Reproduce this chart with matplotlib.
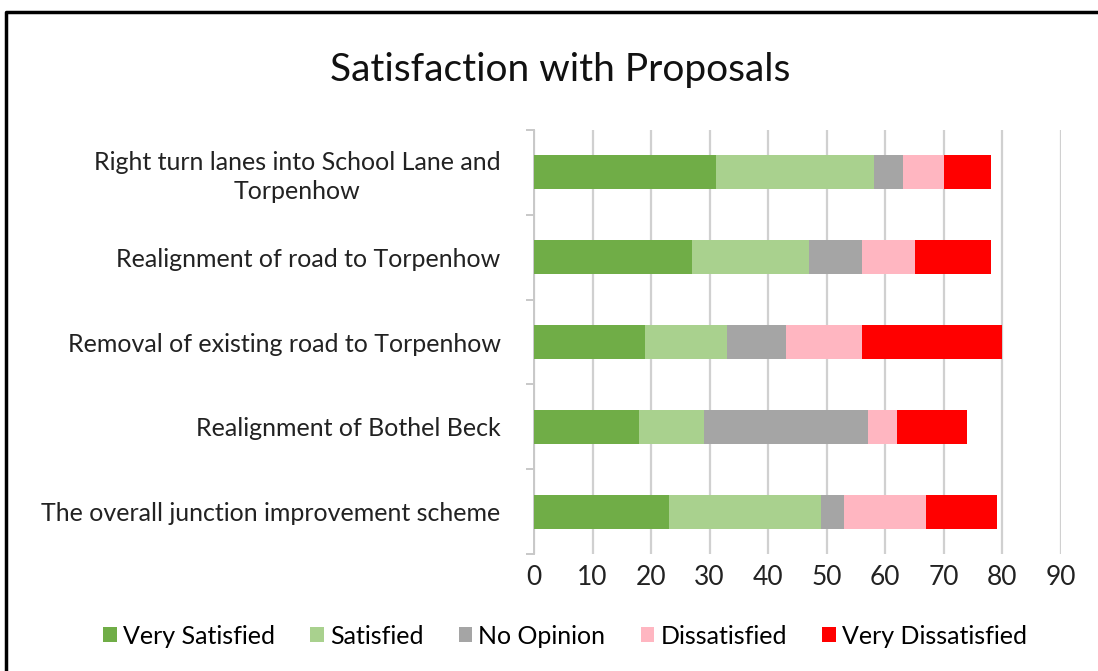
import matplotlib.pyplot as plt
from matplotlib.lines import Line2D
from matplotlib.patches import Patch
import numpy as np

plt.rcParams["font.family"] = ["Lato", "DejaVu Sans"]

proposals = [
    "Right turn lanes into School Lane and\nTorpenhow",
    "Realignment of road to Torpenhow",
    "Removal of existing road to Torpenhow",
    "Realignment of Bothel Beck",
    "The overall junction improvement scheme",
]
series_names = ["Very Satisfied", "Satisfied", "No Opinion", "Dissatisfied", "Very Dissatisfied"]
very_satisfied = [31, 27, 19, 18, 23]
satisfied = [27, 20, 14, 11, 26]
no_opinion = [5, 9, 10, 28, 4]
dissatisfied = [7, 9, 13, 5, 14]
very_dissatisfied = [8, 13, 24, 12, 12]
x_ticks = [0, 10, 20, 30, 40, 50, 60, 70, 80, 90]

colors = ["#70AD47", "#A9D18E", "#A5A5A5", "#FFB6C1", "#FF0000"]

fig = plt.figure(figsize=(10.98, 6.71), dpi=100)
ax = fig.add_axes([534 / 1098, 1 - 554 / 671, 527 / 1098, 424 / 671])

y = np.arange(len(proposals))
left = np.zeros(len(proposals))
for name, vals, col in zip(series_names,
                           [very_satisfied, satisfied, no_opinion, dissatisfied, very_dissatisfied],
                           colors):
    ax.barh(y, vals, left=left, height=0.4, color=col, label=name, zorder=3)
    left += np.array(vals)

ax.set_xlim(0, 90)
ax.set_ylim(len(proposals) - 0.5, -0.5)
ax.set_xticks(x_ticks)
ax.set_xticklabels([str(t) for t in x_ticks], fontsize=19, color="#222222")
ax.tick_params(axis="x", length=0, pad=8)
ax.grid(axis="x", color="#D0D0D0", linewidth=1.6, zorder=0)

ax.set_yticks(y)
ax.set_yticklabels(proposals, fontsize=18, color="#222222",
                   multialignment="center", linespacing=1.3)
ax.tick_params(axis="y", which="major", length=0, pad=24)
ax.set_yticks(np.arange(-0.5, len(proposals)), minor=True)
ax.tick_params(axis="y", which="minor", length=6, color="#C8C8C8", width=1.4)

for side in ["top", "right", "bottom"]:
    ax.spines[side].set_visible(False)
ax.spines["left"].set_color("#C8C8C8")
ax.spines["left"].set_linewidth(1.4)

fig.text(560 / 1098, 1 - 70 / 671, "Satisfaction with Proposals", fontsize=28,
         ha="center", va="center", color="#111111")

handles = [Patch(facecolor=c, label=n) for n, c in zip(series_names, colors)]
fig.legend(handles=handles, loc="center", bbox_to_anchor=(565 / 1098, 1 - 636 / 671),
           ncol=5, frameon=False, fontsize=18, handlelength=0.55, handleheight=0.55,
           handletextpad=0.25, columnspacing=1.4)

# outer frame (left and top edges)
bx = 6 / 1098
by = 1 - 12 / 671
fig.add_artist(Line2D([bx, bx, 1.0], [0.0, by, by], color="black", linewidth=2.5,
                      transform=fig.transFigure))

fig.savefig("out.png", dpi=100, facecolor="white")
